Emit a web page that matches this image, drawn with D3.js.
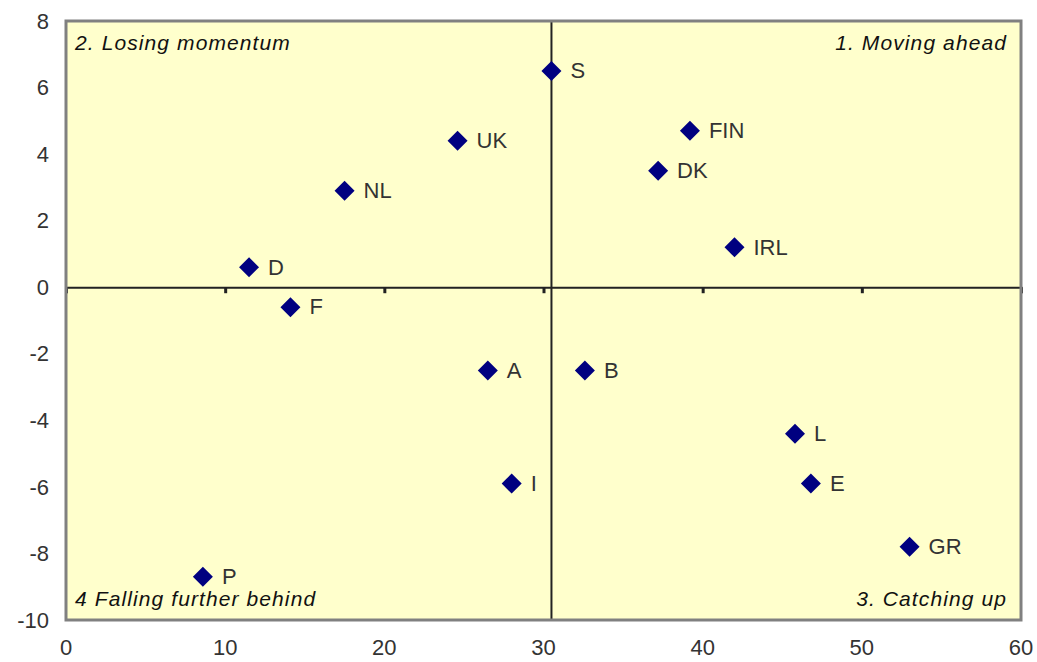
<!DOCTYPE html>
<html lang="en">
<head>
  <meta charset="UTF-8">
  <title>Quadrant chart</title>
  <script src="https://d3js.org/d3.v7.min.js"></script>
  <style>
    body {
      margin: 0;
      background: #ffffff;
      font-family: Arial, 'Liberation Sans', sans-serif;
    }
    .tick-label {
      font-size: 22px;
      fill: #333;
    }
    .pt-label {
      font-size: 22px;
      fill: #333;
    }
    .quad-label {
      font-size: 21px;
      font-style: italic;
      letter-spacing: 1.1px;
      fill: #111;
    }
  </style>
</head>
<body>
  <svg width="1037" height="662"></svg>

  <script>
    // Data
    const countries = ["S", "FIN", "DK", "IRL", "UK", "NL", "D", "F", "A", "B", "I", "L", "E", "GR", "P"];
    const xValues = [30.5, 39.2, 37.2, 42.0, 24.6, 17.5, 11.5, 14.1, 26.5, 32.6, 28.0, 45.8, 46.8, 53.0, 8.6];
    const yValues = [6.5, 4.7, 3.5, 1.2, 4.4, 2.9, 0.6, -0.6, -2.5, -2.5, -5.9, -4.4, -5.9, -7.8, -8.7];
    const xTicks = [0, 10, 20, 30, 40, 50, 60];
    const yTicks = [8, 6, 4, 2, 0, -2, -4, -6, -8, -10];
    const quadrants = ["1. Moving ahead", "2. Losing momentum", "3. Catching up", "4 Falling further behind"];
    const xCross = 30.5;

    const data = countries.map((c, i) => ({ name: c, x: xValues[i], y: yValues[i] }));

    const svg = d3.select("svg");
    const margin = { top: 21, right: 16, bottom: 42, left: 66 };
    const width = 1037 - margin.left - margin.right;
    const height = 662 - margin.top - margin.bottom;

    const x = d3.scaleLinear().domain([0, 60]).range([margin.left, margin.left + width]);
    const y = d3.scaleLinear().domain([-10, 8]).range([margin.top + height, margin.top]);

    // plot background
    svg.append("rect")
      .attr("x", x(0))
      .attr("y", y(8))
      .attr("width", x(60) - x(0))
      .attr("height", y(-10) - y(8))
      .attr("fill", "#ffffcc");

    // crossing axes
    const axisColor = "#222";
    const hAxis = svg.append("g").attr("transform", `translate(0,${y(0)})`)
      .call(d3.axisBottom(x).tickValues(xTicks).tickSize(6).tickFormat(""));
    hAxis.select(".domain").attr("stroke", axisColor).attr("stroke-width", 2);
    hAxis.selectAll(".tick line").attr("stroke", axisColor).attr("stroke-width", 3);

    svg.append("line")
      .attr("x1", x(xCross)).attr("x2", x(xCross))
      .attr("y1", y(8)).attr("y2", y(-10))
      .attr("stroke", axisColor)
      .attr("stroke-width", 2);

    // frame
    svg.append("rect")
      .attr("x", x(0))
      .attr("y", y(8))
      .attr("width", x(60) - x(0))
      .attr("height", y(-10) - y(8))
      .attr("fill", "none")
      .attr("stroke", "#808080")
      .attr("stroke-width", 3);

    // tick labels
    svg.selectAll(".ylab")
      .data(yTicks)
      .enter()
      .append("text")
      .attr("class", "tick-label")
      .attr("x", 49)
      .attr("y", d => y(d))
      .attr("dy", "0.35em")
      .attr("text-anchor", "end")
      .text(d => d);

    svg.selectAll(".xlab")
      .data(xTicks)
      .enter()
      .append("text")
      .attr("class", "tick-label")
      .attr("x", d => x(d))
      .attr("y", 655)
      .attr("text-anchor", "middle")
      .text(d => d);

    // quadrant labels
    svg.append("text").attr("class", "quad-label")
      .attr("x", x(60) - 14).attr("y", y(8) + 29)
      .attr("text-anchor", "end").text(quadrants[0]);
    svg.append("text").attr("class", "quad-label")
      .attr("x", x(0) + 9).attr("y", y(8) + 29)
      .text(quadrants[1]);
    svg.append("text").attr("class", "quad-label")
      .attr("x", x(60) - 14).attr("y", y(-10) - 14)
      .attr("text-anchor", "end").text(quadrants[2]);
    svg.append("text").attr("class", "quad-label")
      .attr("x", x(0) + 9).attr("y", y(-10) - 14)
      .text(quadrants[3]);

    // markers
    const diamond = d3.symbol().type(d3.symbolSquare).size(200);
    svg.selectAll(".pt")
      .data(data)
      .enter()
      .append("path")
      .attr("class", "pt")
      .attr("d", diamond)
      .attr("transform", d => `translate(${x(d.x)},${y(d.y)}) rotate(45)`)
      .attr("fill", "#000080");

    svg.selectAll(".pt-label")
      .data(data)
      .enter()
      .append("text")
      .attr("class", "pt-label")
      .attr("x", d => x(d.x) + 19)
      .attr("y", d => y(d.y))
      .attr("dy", "0.33em")
      .text(d => d.name);
  </script>
</body>
</html>
